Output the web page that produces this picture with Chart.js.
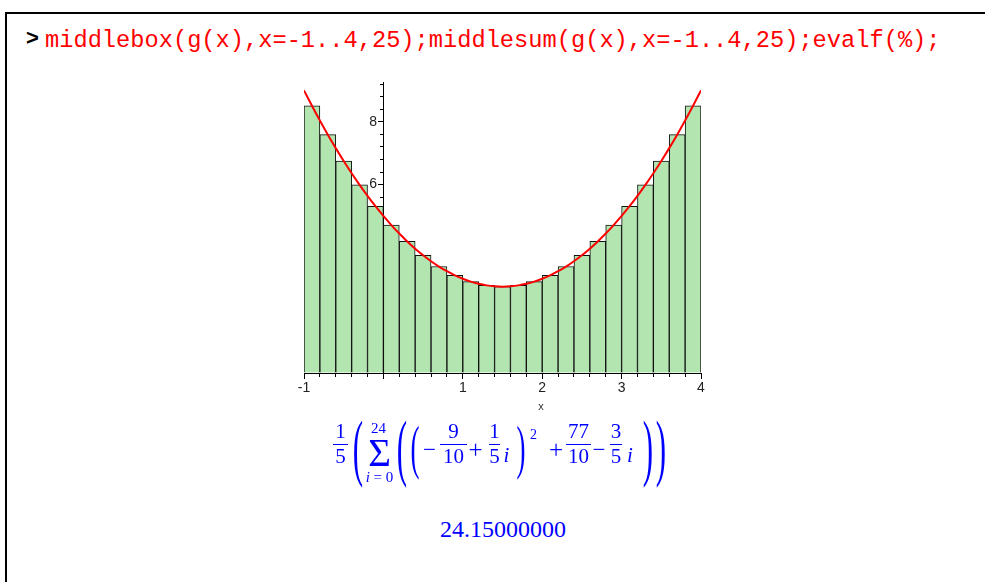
<!DOCTYPE html>
<html>
<head>
<meta charset="utf-8">
<script src="https://cdn.jsdelivr.net/npm/chart.js@4.4.1/dist/chart.umd.min.js"></script>
<style>
  html, body { margin: 0; padding: 0; background: #fff; }
  body { width: 985px; height: 582px; position: relative; overflow: hidden; }
  #frame { position: absolute; left: 5px; top: 12px; right: -4px; bottom: -4px;
           border-top: 2px solid #000; border-left: 2px solid #000; }
  .t { position: absolute; line-height: 0; white-space: nowrap; }
  .bar { position: absolute; height: 1px; background: #0000ff; }
  #plot { position: absolute; left: 280px; top: 70px; width: 450px; height: 340px; }
</style>
</head>
<body>
<div id="frame"></div>
<div id="plot"><canvas id="c"></canvas></div>
<script>
// Midpoint boxes of g(x) on [-1, 4] with 25 subintervals
const barMid = [-0.9, -0.7, -0.5, -0.3, -0.1, 0.1, 0.3, 0.5, 0.7, 0.9, 1.1, 1.3, 1.5,
                1.7, 1.9, 2.1, 2.3, 2.5, 2.7, 2.9, 3.1, 3.3, 3.5, 3.7, 3.9];
const barHeight = [8.51, 7.59, 6.75, 5.99, 5.31, 4.71, 4.19, 3.75, 3.39, 3.11, 2.91, 2.79, 2.75,
                   2.79, 2.91, 3.11, 3.39, 3.75, 4.19, 4.71, 5.31, 5.99, 6.75, 7.59, 8.51];

// The curve g(x)
const curveX = [-1, -0.9, -0.8, -0.7, -0.6, -0.5, -0.4, -0.3, -0.2, -0.1,
                0, 0.1, 0.2, 0.3, 0.4, 0.5, 0.6, 0.7, 0.8, 0.9,
                1, 1.1, 1.2, 1.3, 1.4, 1.5, 1.6, 1.7, 1.8, 1.9,
                2, 2.1, 2.2, 2.3, 2.4, 2.5, 2.6, 2.7, 2.8, 2.9,
                3, 3.1, 3.2, 3.3, 3.4, 3.5, 3.6, 3.7, 3.8, 3.9, 4];
const curveY = [9, 8.51, 8.04, 7.59, 7.16, 6.75, 6.36, 5.99, 5.64, 5.31,
                5, 4.71, 4.44, 4.19, 3.96, 3.75, 3.56, 3.39, 3.24, 3.11,
                3, 2.91, 2.84, 2.79, 2.76, 2.75, 2.76, 2.79, 2.84, 2.91,
                3, 3.11, 3.24, 3.39, 3.56, 3.75, 3.96, 4.19, 4.44, 4.71,
                5, 5.31, 5.64, 5.99, 6.36, 6.75, 7.16, 7.59, 8.04, 8.51, 9];

// Axis ticks
const xMajorTicks = [-1, 0, 1, 2, 3, 4];
const xTickLabels = ['-1', '', '1', '2', '3', '4'];
const xMinorTicks = [-1, -0.8, -0.6, -0.4, -0.2, 0, 0.2, 0.4, 0.6, 0.8, 1, 1.2, 1.4, 1.6, 1.8,
                     2, 2.2, 2.4, 2.6, 2.8, 3, 3.2, 3.4, 3.6, 3.8, 4];
const yMajorTicks = [0, 2, 4, 6, 8];
const yTickLabels = ['', '2', '4', '6', '8'];
const yMinorTicks = [0, 0.4, 0.8, 1.2, 1.6, 2, 2.4, 2.8, 3.2, 3.6, 4, 4.4, 4.8, 5.2, 5.6,
                     6, 6.4, 6.8, 7.2, 7.6, 8, 8.4, 8.8, 9.2];

const X_MIN = -1, X_MAX = 4, Y_MIN = 0, Y_MAX = 9.25;
// the y labels sit just left of the y axis (which crosses at x = 0)
const Y_LABEL_AT = -0.08;

const tickFont = { family: "'Liberation Sans', Arial, sans-serif", size: 14 };

function setTicks(list) {
  return (scale) => { scale.ticks = list.map(v => ({ value: v })); };
}

function axis(kind, list, len, labels, extra) {
  const isX = kind === 'x';
  return Object.assign({
    type: 'linear',
    axis: kind,
    min: isX ? X_MIN : Y_MIN,
    max: isX ? X_MAX : Y_MAX,
    offset: false,
    bounds: 'data',
    position: isX ? { y: 0 } : { x: 0 },
    afterBuildTicks: setTicks(list),
    grid: { display: true, drawOnChartArea: false, drawTicks: len > 0, tickLength: len,
            tickColor: '#000', tickWidth: 1, offset: false },
    border: { display: false },
    ticks: labels ? {
      display: true, autoSkip: false, maxRotation: 0, minRotation: 0,
      font: tickFont, color: '#222', padding: 1,
      callback: (v, i) => labels[i]
    } : { display: false, autoSkip: false },
    z: 1
  }, extra);
}

new Chart(document.getElementById('c'), {
  data: {
    datasets: [
      {
        type: 'line',
        data: curveX.map((x, i) => ({ x, y: curveY[i] })),
        borderColor: '#ff0000',
        borderWidth: 2,
        pointRadius: 0,
        cubicInterpolationMode: 'monotone',
        order: 0
      },
      {
        type: 'bar',
        data: barMid.map((x, i) => ({ x, y: barHeight[i] })),
        backgroundColor: 'rgb(179, 229, 176)',
        borderColor: '#111',
        borderWidth: 1,
        borderSkipped: 'start',
        barPercentage: 1,
        categoryPercentage: 1,
        order: 1
      }
    ]
  },
  options: {
    responsive: true,
    maintainAspectRatio: false,
    animation: false,
    events: [],
    layout: { padding: { left: 24, right: 29, top: 12.5, bottom: 37 } },
    plugins: { legend: { display: false }, tooltip: { enabled: false } },
    scales: {
      x: axis('x', xMinorTicks, 3, null, { border: { display: true, color: '#000', width: 1 } }),
      x2: axis('x', xMajorTicks, 6, xTickLabels),
      y: axis('y', yMinorTicks, 3, null, { border: { display: true, color: '#000', width: 1 } }),
      y2: axis('y', yMajorTicks, 5, null),
      y3: axis('y', yMajorTicks, 0, yTickLabels, { position: { x: Y_LABEL_AT } })
    }
  }
});

// Worksheet text: input line, the sum and its value
const SERIF = "'Liberation Serif', 'Times New Roman', serif";
const MONO = "'Liberation Mono', 'Courier New', monospace";
const SANS = "'Liberation Sans', Arial, sans-serif";
// distance from a line-height:0 box top to the baseline, in em
const HALF = { [SERIF]: 0.3375, [MONO]: 0.2665, [SANS]: 0.3465 };

function put(html, o) {
  const s = document.createElement('span');
  s.className = 't';
  s.innerHTML = html;
  const fam = o.family || SERIF;
  s.style.fontFamily = fam;
  s.style.fontSize = o.size + 'px';
  s.style.fontWeight = o.bold ? 'bold' : 'normal';
  s.style.fontStyle = o.italic ? 'italic' : 'normal';
  s.style.color = o.color || '#0000ff';
  s.style.top = (o.base - HALF[fam] * o.size) + 'px';
  if (o.left !== undefined) {
    s.style.left = o.left + 'px';
  } else {
    s.style.left = o.cx + 'px';
    s.style.transform = 'translateX(-50%)' + (o.sx ? ' scaleX(' + o.sx + ')' : '');
  }
  document.body.appendChild(s);
}

function frac(num, den, cx, w) {
  put(num, { cx, base: 438, size: 21 });
  put(den, { cx, base: 463, size: 21 });
  const b = document.createElement('div');
  b.className = 'bar';
  b.style.left = (cx - w / 2) + 'px';
  b.style.top = '444px';
  b.style.width = w + 'px';
  document.body.appendChild(b);
}

put('&gt;', { left: 26, base: 46, size: 22, bold: true, family: SANS, color: '#000' });
put('middlebox(g(x),x=-1..4,25);middlesum(g(x),x=-1..4,25);evalf(%);',
    { left: 45, base: 47, size: 23.7, family: MONO, color: '#ff0000' });

put('x', { cx: 541, base: 410, size: 11, family: SANS, color: '#333' });

frac('1', '5', 340.5, 15);
put('(', { cx: 357.5, base: 472, size: 74, sx: 0.42 });
put('24', { cx: 378.5, base: 433, size: 15 });
put('&Sigma;', { cx: 379.5, base: 466, size: 39 });
put('<i>i</i> = 0', { cx: 379.5, base: 482, size: 15 });
put('(', { cx: 401.5, base: 472, size: 74, sx: 0.42 });
put('(', { cx: 414.5, base: 467, size: 60, sx: 0.45 });
put('&minus;', { cx: 429.5, base: 458, size: 23 });
frac('9', '10', 453.5, 27);
put('+', { cx: 475.5, base: 458, size: 25 });
frac('1', '5', 494.5, 11);
put('i', { cx: 506.5, base: 462, size: 21, italic: true });
put(')', { cx: 521, base: 467, size: 60, sx: 0.45 });
put('2', { cx: 533.5, base: 440, size: 14 });
put('+', { cx: 556, base: 458, size: 25 });
frac('77', '10', 578.5, 25);
put('&minus;', { cx: 599, base: 458, size: 23 });
frac('3', '5', 616, 12);
put('i', { cx: 630, base: 462, size: 21, italic: true });
put(')', { cx: 648, base: 472, size: 74, sx: 0.42 });
put(')', { cx: 661, base: 472, size: 74, sx: 0.42 });

put('24.15000000', { cx: 503, base: 537, size: 24 });
</script>
</body>
</html>
